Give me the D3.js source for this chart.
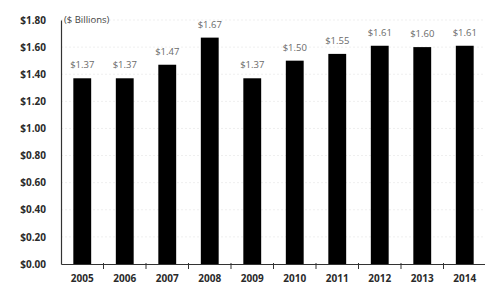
<!DOCTYPE html>
<html>
<head>
<meta charset="utf-8">
<script src="https://cdn.jsdelivr.net/npm/d3@7"></script>
<style>
  body { margin: 0; background: #fff; }
  svg { display: block; }
</style>
</head>
<body>
<div class="chart"></div>
<script>
const years = ['2005', '2006', '2007', '2008', '2009', '2010', '2011', '2012', '2013', '2014']
const values = [1.37, 1.37, 1.47, 1.67, 1.37, 1.50, 1.55, 1.61, 1.60, 1.61]
const yTicks = [0, 0.2, 0.4, 0.6, 0.8, 1.0, 1.2, 1.4, 1.6, 1.8]

const width = 485
const height = 290
const margin = { top: 20, right: -1, bottom: 26, left: 61 }

const svg = d3.select('.chart')
  .append('svg')
  .attr('width', width)
  .attr('height', height)

const x = d3.scaleBand()
  .domain(years)
  .range([margin.left, width - margin.right])
  .paddingInner(0.58)
  .paddingOuter(0.29)

const y = d3.scaleLinear()
  .domain([0, 1.8])
  .range([height - margin.bottom, margin.top])

// faint gridlines
svg.append('g')
  .selectAll('line')
  .data(yTicks.slice(1))
  .enter()
  .append('line')
  .attr('x1', margin.left)
  .attr('x2', width)
  .attr('y1', d => y(d))
  .attr('y2', d => y(d))
  .attr('stroke', '#efefef')
  .attr('stroke-dasharray', '2,2')

svg.append('g')
  .selectAll('rect')
  .data(values)
  .enter()
  .append('rect')
  .attr('x', (d, i) => x(years[i]))
  .attr('y', d => y(d))
  .attr('width', x.bandwidth())
  .attr('height', d => y(0) - y(d))
  .attr('fill', '#000')

svg.append('g')
  .selectAll('text')
  .data(values)
  .enter()
  .append('text')
  .attr('x', (d, i) => x(years[i]) + x.bandwidth() / 2)
  .attr('y', d => y(d) - 10)
  .attr('text-anchor', 'middle')
  .attr('font-family', 'Open Sans, sans-serif')
  .attr('font-size', 9.5)
  .attr('fill', '#6a6a6a')
  .text(d => '$' + d.toFixed(2))

// y axis
const yAxis = svg.append('g')
  .attr('transform', `translate(${margin.left},0)`)
  .call(d3.axisLeft(y).tickValues(yTicks).tickSize(0).tickPadding(15).tickFormat(d => '$' + d.toFixed(2)))
yAxis.select('.domain').attr('stroke', '#333').attr('stroke-width', 1.2)
yAxis.selectAll('text')
  .attr('font-family', 'Open Sans, sans-serif')
  .attr('font-size', 10)
  .attr('font-weight', 'bold')
  .attr('fill', '#2a2a2a')

// x axis, ticks sit between the bars
const xAxis = svg.append('g')
  .attr('transform', `translate(0,${y(0)})`)
  .call(d3.axisBottom(x).tickSize(0).tickPadding(11))
xAxis.select('.domain').attr('stroke', '#333').attr('stroke-width', 1.2)
xAxis.selectAll('text')
  .attr('font-family', 'Open Sans, sans-serif')
  .attr('font-size', 10)
  .attr('font-weight', 'bold')
  .attr('fill', '#2a2a2a')

xAxis.selectAll('.sep')
  .data(years.slice(1))
  .enter()
  .append('line')
  .attr('class', 'sep')
  .attr('x1', d => x(d) - x.step() * x.paddingInner() / 2)
  .attr('x2', d => x(d) - x.step() * x.paddingInner() / 2)
  .attr('y1', -1)
  .attr('y2', 5)
  .attr('stroke', '#333')

svg.append('text')
  .attr('x', margin.left + 3)
  .attr('y', margin.top + 3)
  .attr('font-family', 'Open Sans, sans-serif')
  .attr('font-size', 9.5)
  .attr('fill', '#444')
  .text('($ Billions)')
</script>
</body>
</html>
